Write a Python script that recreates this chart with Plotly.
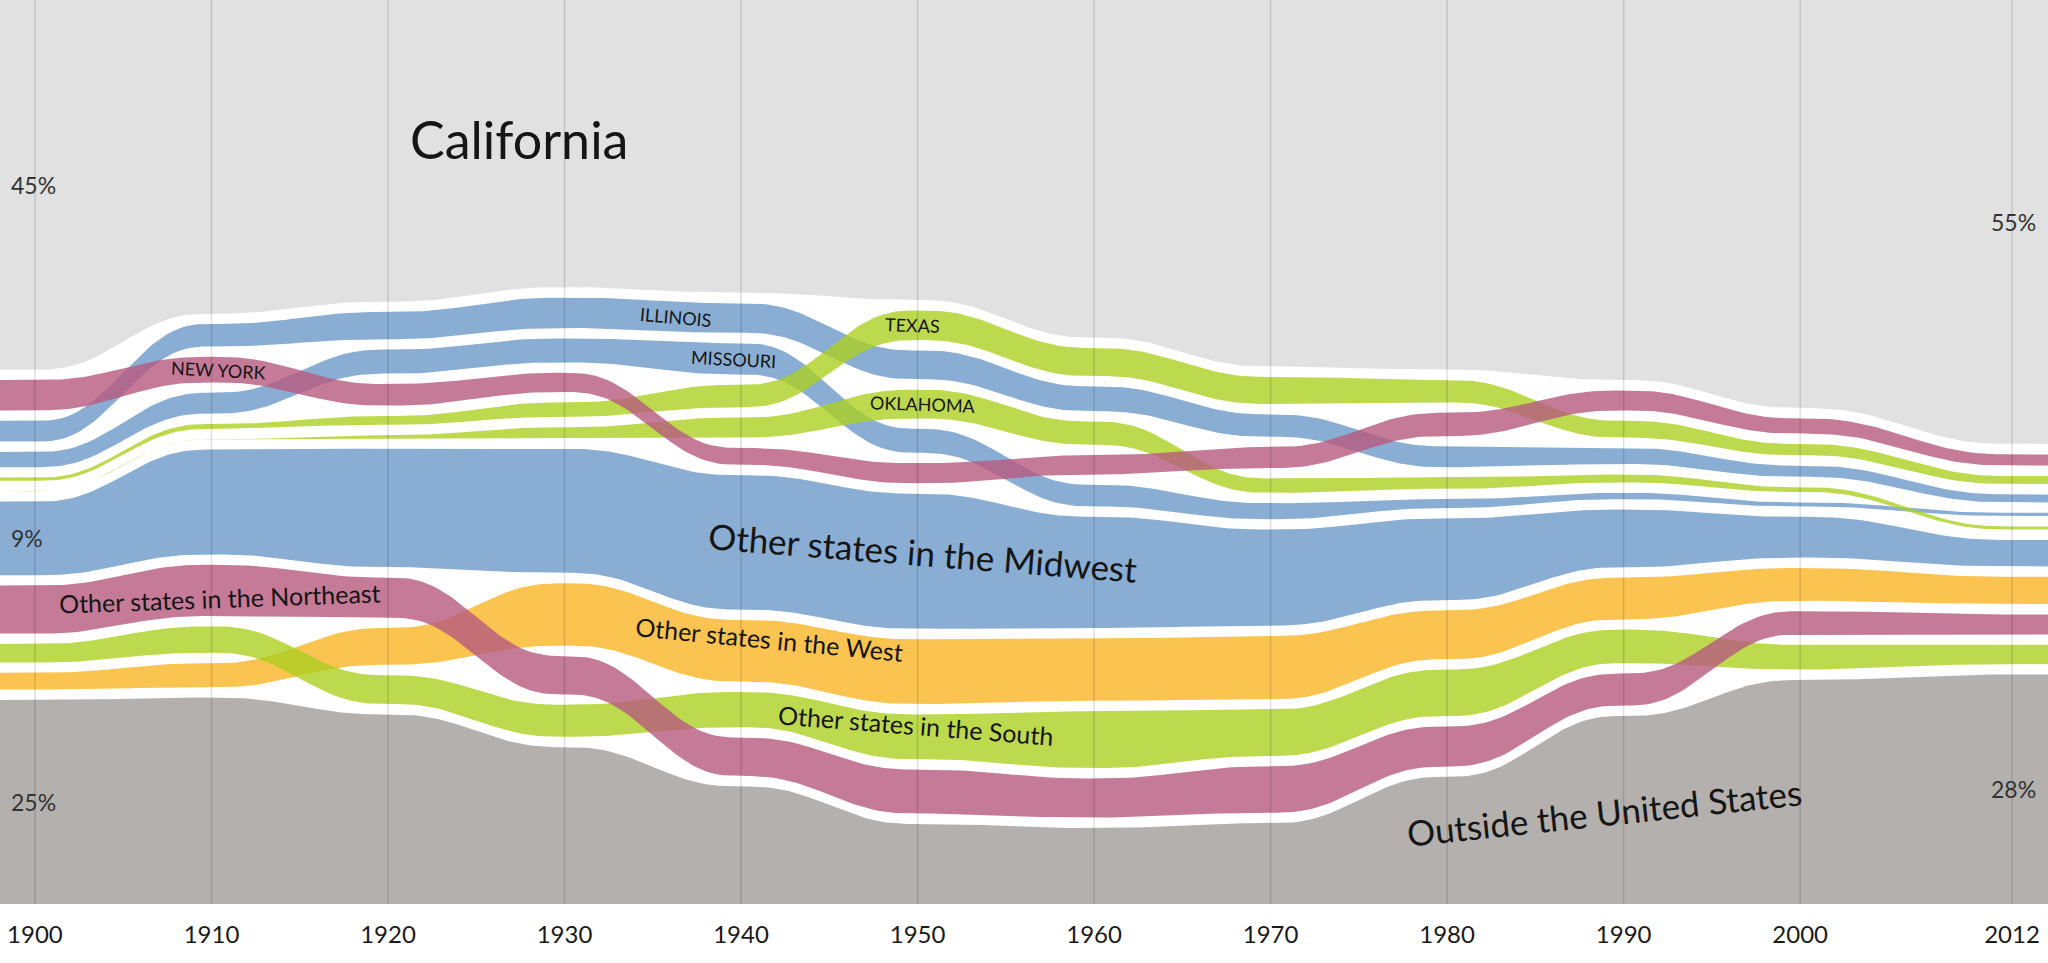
import numpy as np
import plotly.graph_objects as go

# Where Californians were born, share of residents (%) by census year
years = [1900, 1910, 1920, 1930, 1940, 1950, 1960, 1970, 1980, 1990, 2000, 2012]
year_labels = [str(y) for y in years]

california = [46.2, 39.2, 37.7, 35.9, 36.6, 37.5, 42.2, 45.8, 46.2, 47.5, 51.0, 55.5]
illinois = [2.6, 2.8, 3.4, 3.8, 3.7, 3.6, 3.1, 2.8, 2.6, 2.0, 1.4, 1.0]
missouri = [1.9, 2.6, 3.0, 3.0, 3.9, 3.0, 2.7, 2.0, 1.1, 0.8, 0.5, 0.4]
new_york = [3.8, 3.2, 2.7, 2.4, 2.1, 2.5, 2.4, 2.6, 2.9, 2.5, 1.9, 1.4]
texas = [0.4, 0.6, 1.1, 1.8, 2.8, 3.7, 3.5, 3.4, 2.8, 2.1, 1.4, 1.0]
oklahoma = [0.0, 0.0, 0.4, 1.4, 2.5, 3.6, 2.9, 1.8, 1.4, 1.0, 0.6, 0.4]
other_midwest = [9.2, 13.1, 14.8, 15.5, 16.8, 16.9, 13.9, 12.0, 10.2, 7.2, 5.1, 3.3]
other_northeast = [6.0, 6.4, 5.0, 4.8, 4.8, 5.5, 4.9, 5.8, 5.0, 4.0, 2.9, 2.5]
other_west = [2.1, 3.0, 4.6, 7.8, 7.7, 8.1, 7.8, 7.9, 6.1, 5.2, 4.1, 3.4]
other_south = [2.3, 3.3, 3.6, 4.0, 4.4, 5.6, 7.1, 5.8, 5.8, 4.2, 3.1, 2.4]
outside_us = [25.5, 25.8, 23.7, 19.6, 14.7, 10.0, 9.5, 10.1, 15.9, 23.5, 28.0, 28.7]

shares = {
    "California": california,
    "Illinois": illinois,
    "Missouri": missouri,
    "New York": new_york,
    "Texas": texas,
    "Oklahoma": oklahoma,
    "Other Midwest": other_midwest,
    "Other Northeast": other_northeast,
    "Other West": other_west,
    "Other South": other_south,
    "Outside US": outside_us,
}

# stacking order, top to bottom, for each census year
order_by_year = [
    ["California", "New York", "Illinois", "Missouri", "Texas", "Oklahoma", "Other Midwest", "Other Northeast", "Other South", "Other West", "Outside US"],
    ["California", "Illinois", "New York", "Missouri", "Texas", "Oklahoma", "Other Midwest", "Other Northeast", "Other South", "Other West", "Outside US"],
    ["California", "Illinois", "Missouri", "New York", "Texas", "Oklahoma", "Other Midwest", "Other Northeast", "Other West", "Other South", "Outside US"],
    ["California", "Illinois", "Missouri", "New York", "Texas", "Oklahoma", "Other Midwest", "Other West", "Other Northeast", "Other South", "Outside US"],
    ["California", "Illinois", "Missouri", "Texas", "Oklahoma", "New York", "Other Midwest", "Other West", "Other South", "Other Northeast", "Outside US"],
    ["California", "Texas", "Illinois", "Oklahoma", "Missouri", "New York", "Other Midwest", "Other West", "Other South", "Other Northeast", "Outside US"],
    ["California", "Texas", "Illinois", "Oklahoma", "New York", "Missouri", "Other Midwest", "Other West", "Other South", "Other Northeast", "Outside US"],
    ["California", "Texas", "Illinois", "New York", "Oklahoma", "Missouri", "Other Midwest", "Other West", "Other South", "Other Northeast", "Outside US"],
    ["California", "Texas", "New York", "Illinois", "Oklahoma", "Missouri", "Other Midwest", "Other West", "Other South", "Other Northeast", "Outside US"],
    ["California", "New York", "Texas", "Illinois", "Oklahoma", "Missouri", "Other Midwest", "Other West", "Other South", "Other Northeast", "Outside US"],
    ["California", "New York", "Texas", "Illinois", "Oklahoma", "Missouri", "Other Midwest", "Other West", "Other Northeast", "Other South", "Outside US"],
    ["California", "New York", "Texas", "Illinois", "Missouri", "Oklahoma", "Other Midwest", "Other West", "Other Northeast", "Other South", "Outside US"],
]

BLUE = "rgba(109,153,200,0.8)"
PINK = "rgba(183,89,126,0.8)"
GREEN = "rgba(173,208,34,0.8)"
ORANGE = "rgba(250,180,35,0.8)"
colors = {
    "California": "#e1e1e1",
    "Outside US": "#b3b0ae",
    "Illinois": BLUE, "Missouri": BLUE, "Other Midwest": BLUE,
    "New York": PINK, "Other Northeast": PINK,
    "Texas": GREEN, "Oklahoma": GREEN, "Other South": GREEN,
    "Other West": ORANGE,
}

GAP = 1.3                       # white space between bands, in % units
TOP = 100 + GAP * 10
X_MIN, X_MAX = 1898.02, 2014.04
FONT = "Lato, Open Sans, sans-serif"


def stack_edges(k):
    edges, cur = {}, TOP
    for name in order_by_year[k]:
        v = shares[name][k]
        edges[name] = (cur, cur - v)
        cur = cur - v - GAP
    return edges


edges = [stack_edges(k) for k in range(len(years))]


def ease(t):
    return t * t * t * (t * (t * 6 - 15) + 10)


def edge_curve(name, which):
    xs, ys = [X_MIN], [edges[0][name][which]]
    for k in range(len(years) - 1):
        t = np.linspace(0, 1, 41)
        a, b = edges[k][name][which], edges[k + 1][name][which]
        xs.extend(years[k] + t * (years[k + 1] - years[k]))
        ys.extend(a + ease(t) * (b - a))
    xs.append(X_MAX)
    ys.append(edges[-1][name][which])
    return np.array(xs), np.array(ys)


def center_at(name, x):
    xt, yt = edge_curve(name, 0)
    xb, yb = edge_curve(name, 1)
    return (np.interp(x, xt, yt) + np.interp(x, xb, yb)) / 2


fig = go.Figure()

draw_order = ["California", "Outside US", "Other Midwest", "Other West", "Other South",
              "Other Northeast", "Illinois", "Missouri", "Oklahoma", "Texas", "New York"]
for name in draw_order:
    xt, yt = edge_curve(name, 0)
    xb, yb = edge_curve(name, 1)
    fig.add_trace(go.Scatter(
        x=np.concatenate([xt, xb[::-1]]),
        y=np.concatenate([yt, yb[::-1]]),
        mode="lines", fill="toself", fillcolor=colors[name],
        line=dict(width=0), hoverinfo="skip", showlegend=False,
    ))

# decade grid lines drawn over everything
for y in years:
    fig.add_shape(type="line", x0=y, x1=y, y0=0, y1=1, xref="x", yref="paper",
                  line=dict(color="rgba(0,0,0,0.13)", width=1.5), layer="above")

# band labels: (text, band, x, size, angle, nudge)
band_labels = [
    ("Other states in the Midwest", "Other Midwest", 1950.3, 35, 4.5, 1.2),
    ("Other states in the Northeast", "Other Northeast", 1910.5, 25, -2, -1.0),
    ("Other states in the West", "Other West", 1941.6, 25, 5.5, 1.5),
    ("Other states in the South", "Other South", 1949.9, 25, 4.5, 1.5),
    ("NEW YORK", "New York", 1910.4, 18, 3, 0.0),
    ("ILLINOIS", "Illinois", 1936.3, 18, 5, 0.0),
    ("MISSOURI", "Missouri", 1939.6, 18, 3, 0.0),
    ("TEXAS", "Texas", 1949.7, 18, 2, 0.0),
    ("OKLAHOMA", "Oklahoma", 1950.3, 18, 2, 0.0),
]
for text, band, x, size, angle, nudge in band_labels:
    fig.add_annotation(x=x, y=center_at(band, x) + nudge, text=text, showarrow=False,
                       textangle=angle, font=dict(family=FONT, size=size, color="#151515"))

fig.add_annotation(x=1927.4, y=95.6, text="California", showarrow=False,
                   font=dict(family=FONT, size=52, color="#151515"))
fig.add_annotation(x=1988.9, y=11.5, text="Outside the United States", showarrow=False,
                   textangle=-6, font=dict(family=FONT, size=35, color="#151515"))

# share labels at both ends
left_pct = [("California", "45%"), ("Other Midwest", "9%"), ("Outside US", "25%")]
right_pct = [("California", "55%"), ("Outside US", "28%")]
for band, text in left_pct:
    fig.add_annotation(x=1898.55, y=center_at(band, years[0]), text=text, showarrow=False,
                       xanchor="left", font=dict(family=FONT, size=23, color="#333333"))
for band, text in right_pct:
    fig.add_annotation(x=2013.45, y=center_at(band, years[-1]), text=text, showarrow=False,
                       xanchor="right", font=dict(family=FONT, size=23, color="#333333"))

fig.update_layout(
    width=2048, height=963,
    margin=dict(l=0, r=0, t=0, b=59),
    plot_bgcolor="white", paper_bgcolor="white",
    font=dict(family=FONT, color="#1a1a1a"),
    showlegend=False,
    xaxis=dict(range=[X_MIN, X_MAX], tickvals=years, ticktext=year_labels,
               showgrid=False, zeroline=False, showline=False, ticks="",
               tickfont=dict(family=FONT, size=24, color="#1a1a1a"),
               ticklabelstandoff=14, fixedrange=True),
    yaxis=dict(range=[0, TOP], visible=False, fixedrange=True),
)

fig.write_html("out.html", config={"displayModeBar": False},
               post_script="document.body.style.margin='0';document.body.style.overflow='hidden';")
